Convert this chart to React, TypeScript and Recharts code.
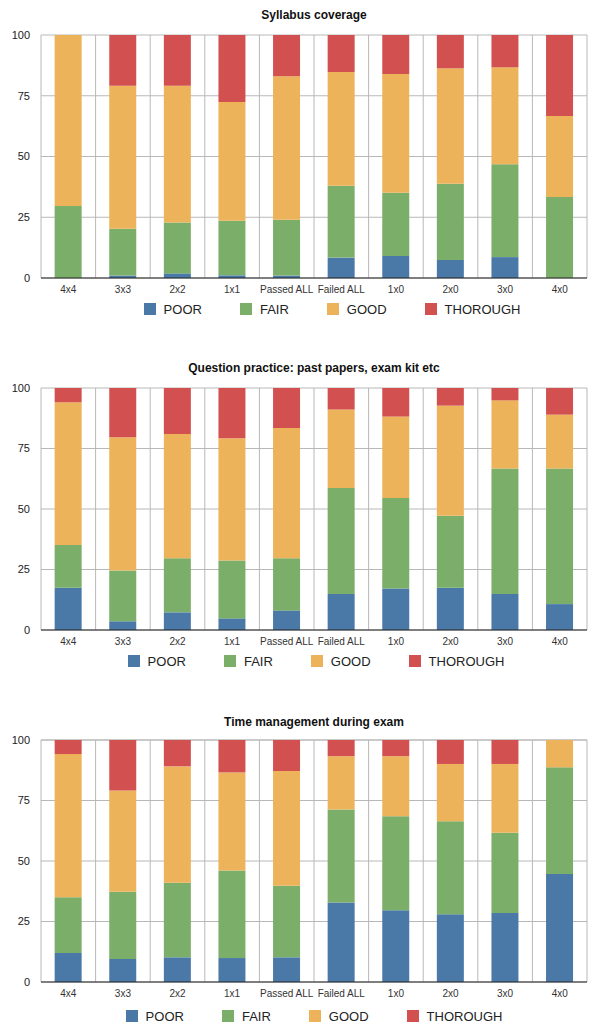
import { BarChart, Bar, XAxis, YAxis, CartesianGrid, Legend } from "recharts";

const categories = ["4x4", "3x3", "2x2", "1x1", "Passed ALL", "Failed ALL", "1x0", "2x0", "3x0", "4x0"];
const levels = ["POOR", "FAIR", "GOOD", "THOROUGH"];
const levelColors = ["#4a78a7", "#7aae69", "#ecb35a", "#d2504f"];
const yTicks = [0, 25, 50, 75, 100];

const syllabusPoor = [0, 1, 1.9, 1.1, 1, 8.4, 9.1, 7.4, 8.6, 0];
const syllabusFair = [29.6, 19.3, 20.9, 22.5, 23, 29.6, 26, 31.4, 38.2, 33.3];
const syllabusGood = [70.4, 58.8, 56.3, 48.8, 59, 46.8, 48.9, 47.5, 39.9, 33.4];
const syllabusThorough = [0, 20.9, 20.9, 27.6, 17, 15.2, 16, 13.7, 13.3, 33.3];

const practicePoor = [17.5, 3.6, 7.3, 4.8, 8.1, 14.9, 17.1, 17.5, 14.9, 10.7];
const practiceFair = [17.6, 21, 22.3, 23.9, 21.5, 43.8, 37.4, 29.7, 51.8, 56];
const practiceGood = [59, 55, 51.4, 50.5, 53.9, 32.4, 33.7, 45.5, 28.2, 22.3];
const practiceThorough = [5.9, 20.4, 19, 20.8, 16.5, 8.9, 11.8, 7.3, 5.1, 11];

const timePoor = [12, 9.5, 10.2, 9.9, 10.2, 32.8, 29.6, 28, 28.5, 44.6];
const timeFair = [23, 27.8, 30.8, 36.2, 29.6, 38.5, 38.9, 38.4, 33.2, 44.1];
const timeGood = [59.2, 41.8, 48.1, 40.5, 47.4, 22, 24.8, 23.7, 28.4, 11.3];
const timeThorough = [5.8, 20.9, 10.9, 13.4, 12.8, 6.7, 6.7, 9.9, 9.9, 0];

const FONT = '"Liberation Sans", Arial, sans-serif';

function LegendRow({ shift }: { shift: number }) {
  return (
    <div
      style={{
        display: "flex",
        justifyContent: "center",
        alignItems: "center",
        height: 18,
        transform: `translateX(${shift}px)`,
        fontFamily: FONT,
        fontSize: 13,
        color: "#222",
      }}
    >
      {levels.map((lv, i) => (
        <div key={lv} style={{ display: "flex", alignItems: "center", marginRight: i < levels.length - 1 ? 38 : 0 }}>
          <span style={{ width: 12, height: 12, background: levelColors[i], marginRight: 8, display: "inline-block" }} />
          <span>{lv}</span>
        </div>
      ))}
    </div>
  );
}

interface StackChartProps {
  title: string;
  series: number[][];
  plotTop: number;
  plotHeight: number;
  titleGap: number;
  legendGap: number;
  legendShift: number;
}

function StackChart({ title, series, plotTop, plotHeight, titleGap, legendGap, legendShift }: StackChartProps) {
  const data = categories.map((name, i) => {
    const row: Record<string, string | number> = { name };
    levels.forEach((lv, k) => (row[lv] = series[k][i]));
    return row;
  });
  const marginTop = 10;
  const legendH = 18;
  const axisH = legendGap - legendH / 2;
  const height = marginTop + plotHeight + axisH + legendH;

  return (
    <div style={{ position: "absolute", left: 0, top: plotTop - marginTop, width: 600, height }}>
      <div
        style={{
          position: "absolute",
          left: 41,
          width: 546,
          top: marginTop - titleGap - 8,
          height: 16,
          lineHeight: "16px",
          textAlign: "center",
          fontFamily: FONT,
          fontWeight: "bold",
          fontSize: 12,
          color: "#111",
        }}
      >
        {title}
      </div>
      <BarChart
        width={600}
        height={height}
        data={data}
        margin={{ top: marginTop, right: 13, bottom: 0, left: 0 }}
        barCategoryGap="25%"
      >
        <CartesianGrid
          stroke="#b8b8b8"
          verticalCoordinatesGenerator={({ offset }: any) =>
            [...categories.map((_, i) => offset.left + (i * offset.width) / categories.length), offset.left + offset.width]
          }
        />
        <XAxis
          dataKey="name"
          interval={0}
          height={axisH}
          tickLine={false}
          axisLine={{ stroke: "#222" }}
          tick={{ fontSize: 10, fill: "#333", fontFamily: FONT }}
        />
        <YAxis
          domain={[0, 100]}
          ticks={yTicks}
          width={41}
          tickLine={false}
          axisLine={false}
          tickMargin={5}
          tick={{ fontSize: 11, fill: "#222", fontFamily: FONT }}
        />
        <Legend
          verticalAlign="bottom"
          height={legendH}
          wrapperStyle={{ left: 41, width: 546 }}
          content={() => <LegendRow shift={legendShift} />}
        />
        {levels.map((lv, k) => (
          <Bar key={lv} dataKey={lv} stackId="s" fill={levelColors[k]} isAnimationActive={false} />
        ))}
      </BarChart>
    </div>
  );
}

export default function App() {
  return (
    <div style={{ position: "absolute", left: 0, top: 0, width: 600, height: 1031, background: "#fff" }}>
      <StackChart
        title="Syllabus coverage"
        series={[syllabusPoor, syllabusFair, syllabusGood, syllabusThorough]}
        plotTop={35}
        plotHeight={243}
        titleGap={20}
        legendGap={31}
        legendShift={18}
      />
      <StackChart
        title="Question practice: past papers, exam kit etc"
        series={[practicePoor, practiceFair, practiceGood, practiceThorough]}
        plotTop={388}
        plotHeight={242}
        titleGap={20}
        legendGap={31}
        legendShift={2}
      />
      <StackChart
        title="Time management during exam"
        series={[timePoor, timeFair, timeGood, timeThorough]}
        plotTop={740}
        plotHeight={242}
        titleGap={18}
        legendGap={34}
        legendShift={0}
      />
    </div>
  );
}
